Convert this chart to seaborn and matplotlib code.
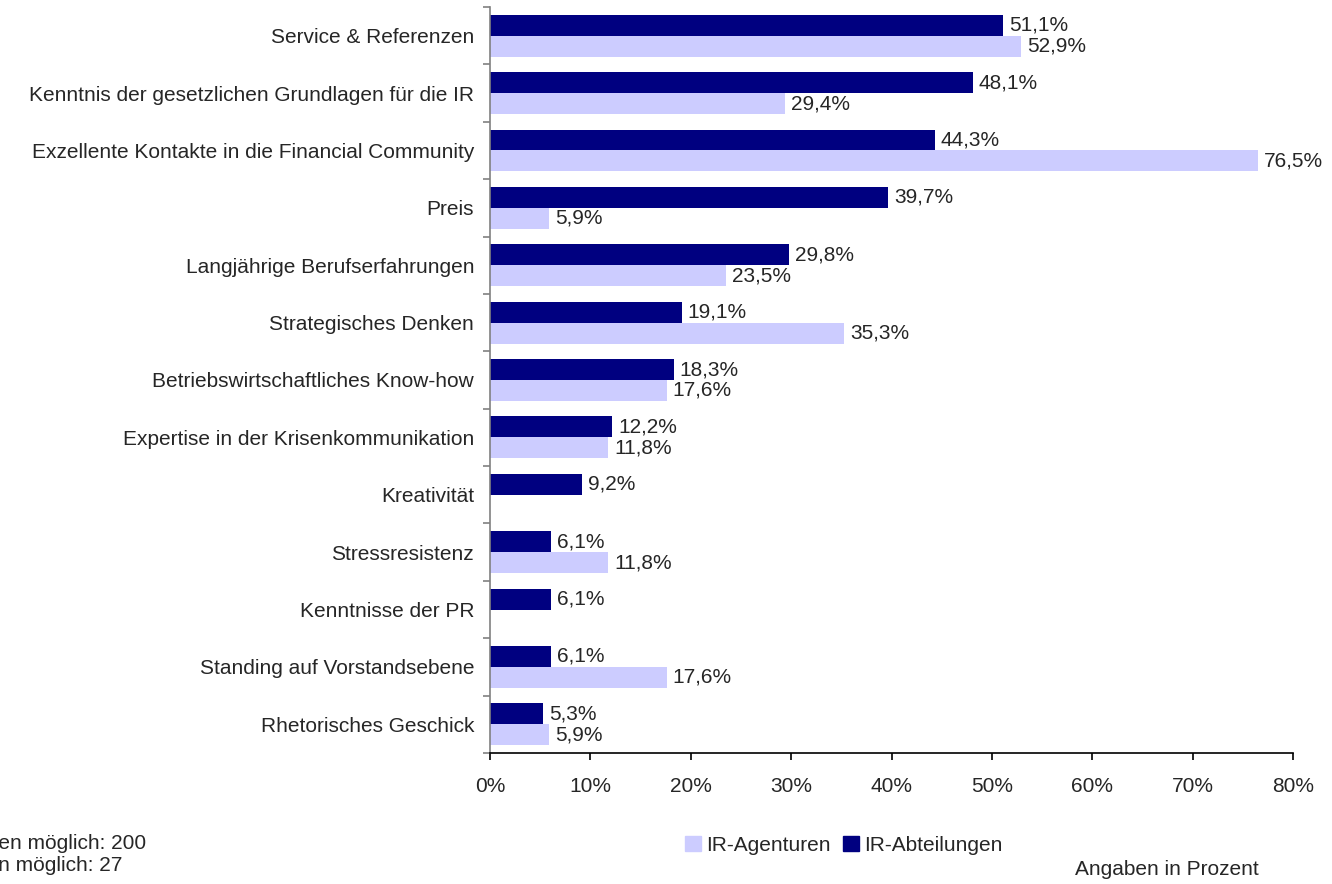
import pandas as pd
import numpy as np
import matplotlib
matplotlib.use('Agg')
import matplotlib.pyplot as plt
import seaborn as sns
from matplotlib.patches import Patch

# Kategorien und Werte (in Prozent)
kategorien = [
    'Service & Referenzen',
    'Kenntnis der gesetzlichen Grundlagen für die IR',
    'Exzellente Kontakte in die Financial Community',
    'Preis',
    'Langjährige Berufserfahrungen',
    'Strategisches Denken',
    'Betriebswirtschaftliches Know-how',
    'Expertise in der Krisenkommunikation',
    'Kreativität',
    'Stressresistenz',
    'Kenntnisse der PR',
    'Standing auf Vorstandsebene',
    'Rhetorisches Geschick',
]
abteilungen = [51.1, 48.1, 44.3, 39.7, 29.8, 19.1, 18.3, 12.2, 9.2, 6.1, 6.1, 6.1, 5.3]
agenturen = [52.9, 29.4, 76.5, 5.9, 23.5, 35.3, 17.6, 11.8, np.nan, 11.8, np.nan, 17.6, 5.9]
serien = ['IR-Abteilungen', 'IR-Agenturen']
farben = {'IR-Abteilungen': '#000080', 'IR-Agenturen': '#CCCCFF'}

df = pd.DataFrame({'kategorie': kategorien * 2,
                   'gruppe': [serien[0]] * len(kategorien) + [serien[1]] * len(kategorien),
                   'wert': abteilungen + agenturen})

sns.set_style('white')
plt.rcParams['font.family'] = ['Liberation Sans', 'DejaVu Sans']
fs = 15

fig = plt.figure(figsize=(13.32, 8.84), dpi=100)
ax = fig.add_axes([0.3679, 0.1482, 0.6028, 0.8439])

sns.barplot(data=df, y='kategorie', x='wert', hue='gruppe', order=kategorien,
            hue_order=serien, palette=farben, orient='h', width=0.73,
            saturation=1, linewidth=0, ax=ax, legend=False)

# Wertebeschriftungen
for cont in ax.containers:
    for bar in cont:
        w = bar.get_width()
        if np.isnan(w) or w == 0:
            continue
        txt = f'{w:.1f}%'.replace('.', ',')
        ax.text(w + 0.6, bar.get_y() + bar.get_height() / 2, txt,
                va='center', ha='left', fontsize=fs)

ax.set_xlim(0, 80)
ax.set_ylim(len(kategorien) - 0.5, -0.5)
ax.set_xticks(range(0, 81, 10))
ax.set_xticklabels([f'{v}%' for v in range(0, 81, 10)], fontsize=fs)
ax.set_xlabel('')
ax.set_ylabel('')

# y-Ticks an den Kategoriegrenzen, Beschriftungen in der Mitte
ax.set_yticks(np.arange(len(kategorien)))
ax.set_yticklabels(kategorien, fontsize=fs)
ax.set_yticks(np.arange(-0.5, len(kategorien)), minor=True)
ax.tick_params(axis='y', which='major', left=False, length=0, pad=11.5)
ax.tick_params(axis='y', which='minor', left=True, length=5, width=1.2,
               direction='out', color='#808080')
ax.tick_params(axis='x', bottom=True, length=5, width=1.2, direction='out',
               pad=12, color='black')

for s in ['top', 'right']:
    ax.spines[s].set_visible(False)
ax.spines['left'].set_color('#808080')
ax.spines['bottom'].set_color('black')
ax.spines['left'].set_linewidth(1.2)
ax.spines['bottom'].set_linewidth(1.2)

# Legende
handles = [Patch(color=farben['IR-Agenturen'], label='IR-Agenturen'),
           Patch(color=farben['IR-Abteilungen'], label='IR-Abteilungen')]
fig.legend(handles=handles, loc='center left', bbox_to_anchor=(0.5145, 0.044),
           ncol=2, frameon=False, fontsize=fs, handlelength=0.75,
           handleheight=0.75, handletextpad=0.25, columnspacing=0.6,
           borderpad=0, borderaxespad=0)

fig.text(0.876, 0.016, 'Angaben in Prozent', ha='center', va='center', fontsize=fs)
fig.text(0.110, 0.046, 'IR-Abteilungen: Nennungen möglich: 200', ha='right', va='center', fontsize=fs)
fig.text(0.092, 0.021, 'IR-Agenturen: Nennungen möglich: 27', ha='right', va='center', fontsize=fs)

fig.savefig('out.png', dpi=100)
